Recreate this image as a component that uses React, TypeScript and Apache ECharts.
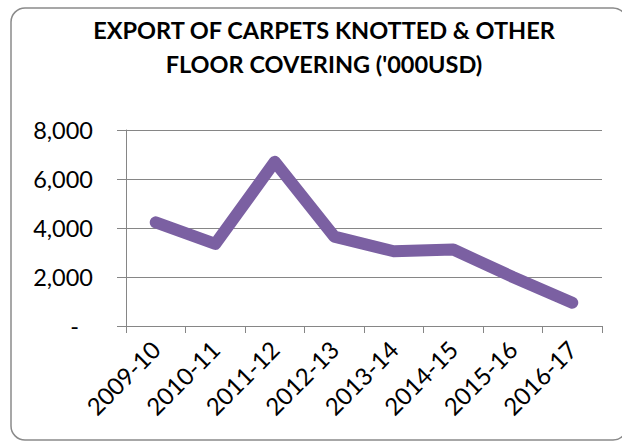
import React, { useEffect, useRef } from 'react';
import * as echarts from 'echarts';

const titleLines = ["EXPORT OF CARPETS KNOTTED & OTHER", "FLOOR COVERING ('000USD)"];
const categories = ['2009-10', '2010-11', '2011-12', '2012-13', '2013-14', '2014-15', '2015-16', '2016-17'];
const values = [4230, 3350, 6700, 3650, 3050, 3120, 2000, 950];
const yMin = 0;
const yMax = 8000;
const yInterval = 2000;

const FONT = 'Lato, Carlito, Calibri, sans-serif';

export default function App() {
  const ref = useRef<HTMLDivElement>(null);
  useEffect(() => {
    const chart = echarts.init(ref.current!, null, { renderer: 'svg' });
    chart.setOption({
      animation: false,
      backgroundColor: '#ffffff',
      title: {
        text: titleLines.join('\n'),
        left: 319,
        textAlign: 'center',
        top: 8,
        textStyle: {
          fontFamily: FONT,
          fontWeight: 'bold',
          fontSize: 23.5,
          lineHeight: 34,
          color: '#000',
        },
      },
      graphic: [
        {
          type: 'rect',
          shape: { x: 11, y: 8, width: 616, height: 432, r: 14 },
          style: { fill: 'none', stroke: '#8a8a8a', lineWidth: 1.5 },
          silent: true,
        },
      ],
      grid: { left: 126, right: 20, top: 130, bottom: 115 },
      xAxis: {
        type: 'category',
        data: categories,
        boundaryGap: true,
        axisLine: { show: true, lineStyle: { color: '#868686', width: 1 } },
        axisTick: { show: true, length: 7, lineStyle: { color: '#868686' } },
        axisLabel: {
          rotate: 45,
          margin: 19,
          interval: 0,
          fontFamily: FONT,
          fontSize: 24,
          color: '#000',
        },
        splitLine: { show: false },
      },
      yAxis: {
        type: 'value',
        min: yMin,
        max: yMax,
        interval: yInterval,
        axisLine: { show: true, lineStyle: { color: '#868686', width: 1 } },
        axisTick: { show: true, length: 9, lineStyle: { color: '#868686' } },
        splitLine: { show: true, lineStyle: { color: '#868686', width: 1 } },
        axisLabel: {
          margin: 33,
          fontFamily: FONT,
          fontSize: 23.5,
          color: '#000',
          formatter: (v: number) => (v === 0 ? '{d|-}' : v.toLocaleString('en-US')),
          rich: {
            d: { fontFamily: FONT, fontSize: 23.5, color: '#000', padding: [0, 14, 0, 0] },
          },
        },
      },
      series: [
        {
          type: 'line',
          data: values,
          symbol: 'none',
          lineStyle: { color: '#7B60A2', width: 12, cap: 'round', join: 'round' },
          itemStyle: { color: '#7B60A2' },
        },
      ],
    });
    return () => chart.dispose();
  }, []);
  return (
    <div
      ref={ref}
      style={{ position: 'fixed', left: 0, top: 0, width: 622, height: 441, background: '#fff' }}
    />
  );
}
